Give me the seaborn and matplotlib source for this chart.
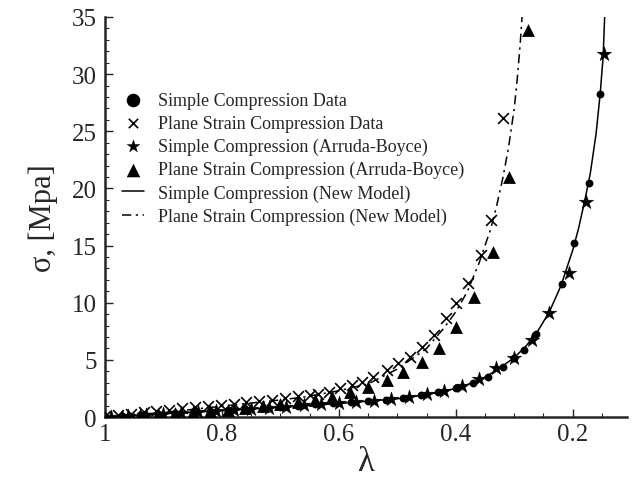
import numpy as np
import pandas as pd
import seaborn as sns
import matplotlib.pyplot as plt
from matplotlib.ticker import MultipleLocator

# Simple compression, new model (solid line)
sc_model_lam = [1.0, 0.9, 0.8, 0.7, 0.6, 0.5, 0.45, 0.4, 0.36, 0.33, 0.3, 0.28, 0.26,
                0.24, 0.22, 0.2, 0.19, 0.18, 0.17, 0.16, 0.153, 0.148, 0.145]
sc_model_sig = [0.0, 0.28, 0.56, 0.85, 1.18, 1.6, 1.95, 2.5, 3.2, 4.1, 5.2, 6.2, 7.5,
                9.2, 11.5, 14.6, 16.5, 18.8, 21.3, 24.8, 28.3, 31.5, 35.5]

# Plane strain compression, new model (dash-dot line)
ps_model_lam = [1.0, 0.9, 0.8, 0.7, 0.66, 0.6, 0.55, 0.5, 0.45, 0.42, 0.4, 0.38, 0.36,
                0.34, 0.33, 0.32, 0.31, 0.3, 0.295, 0.29, 0.286]
ps_model_sig = [0.0, 0.4, 0.95, 1.5, 1.75, 2.3, 2.9, 4.2, 6.0, 7.8, 9.2, 11.0, 13.5,
                16.5, 18.5, 20.8, 23.5, 27.0, 29.5, 32.5, 35.5]

# Simple compression data (circles)
sc_data_lam = [1.0, 0.97, 0.94, 0.91, 0.88, 0.85, 0.82, 0.79, 0.76, 0.73, 0.70, 0.67,
               0.64, 0.61, 0.58, 0.55, 0.52, 0.49, 0.46, 0.43, 0.40, 0.37, 0.345, 0.32,
               0.30, 0.283, 0.262, 0.219, 0.197, 0.172, 0.153]
sc_data_sig = [0.0, 0.08, 0.17, 0.26, 0.36, 0.45, 0.54, 0.63, 0.72, 0.82, 0.9, 1.0,
               1.1, 1.2, 1.32, 1.42, 1.52, 1.68, 1.9, 2.2, 2.5, 3.0, 3.5, 4.4,
               5.2, 5.9, 7.3, 11.6, 15.2, 20.5, 28.3]

# Plane strain compression data (crosses)
ps_data_lam = [1.0, 0.978, 0.956, 0.934, 0.912, 0.89, 0.868, 0.846, 0.824, 0.802, 0.78,
               0.758, 0.736, 0.714, 0.692, 0.67, 0.65, 0.636, 0.616, 0.598, 0.578, 0.56,
               0.541, 0.517, 0.498, 0.478, 0.457, 0.438, 0.417, 0.4, 0.379, 0.357, 0.34,
               0.319]
ps_data_sig = [0.05, 0.2, 0.3, 0.45, 0.55, 0.65, 0.75, 0.85, 0.95, 1.05, 1.15,
               1.3, 1.4, 1.5, 1.65, 1.8, 1.9, 2.0, 2.2, 2.5, 2.8, 3.1,
               3.5, 4.1, 4.7, 5.25, 6.1, 7.2, 8.7, 10.0, 11.7, 14.2, 17.2,
               26.2]

# Simple compression, Arruda-Boyce (stars)
sc_ab_lam = [0.99, 0.96, 0.93, 0.9, 0.87, 0.84, 0.81, 0.78, 0.75, 0.72, 0.69, 0.66,
             0.63, 0.6, 0.57, 0.54, 0.51, 0.48, 0.45, 0.42, 0.39, 0.36, 0.331, 0.3,
             0.269, 0.24, 0.207, 0.178, 0.147]
sc_ab_sig = [0.02, 0.1, 0.2, 0.28, 0.37, 0.46, 0.55, 0.64, 0.73, 0.82, 0.92, 1.02,
             1.12, 1.22, 1.33, 1.43, 1.55, 1.75, 2.0, 2.3, 2.7, 3.3, 4.3, 5.2,
             6.7, 9.1, 12.6, 18.8, 31.8]

# Plane strain compression, Arruda-Boyce (triangles)
ps_ab_lam = [1.0, 0.97, 0.94, 0.91, 0.88, 0.85, 0.82, 0.79, 0.76, 0.73, 0.70, 0.67,
             0.641, 0.612, 0.581, 0.55, 0.517, 0.49, 0.457, 0.429, 0.4, 0.369, 0.336,
             0.309, 0.276]
ps_ab_sig = [0.0, 0.08, 0.15, 0.25, 0.35, 0.45, 0.55, 0.65, 0.8, 0.95, 1.1, 1.3,
             1.5, 1.75, 2.2, 2.6, 3.2, 3.9, 4.8, 6.0, 7.9, 10.5, 14.4,
             21.0, 33.9]

sns.set_style('ticks')
plt.rcParams['font.family'] = ['Liberation Serif', 'DejaVu Serif']

fig, ax = plt.subplots(figsize=(6.36, 4.85), dpi=100)
fig.subplots_adjust(left=0.165, right=0.986, bottom=0.138, top=0.963)

sns.scatterplot(x=sc_data_lam, y=sc_data_sig, ax=ax, marker='o', color='k', s=32,
                edgecolor='k', linewidth=0, label='Simple Compression Data', zorder=3)
sns.scatterplot(x=ps_data_lam, y=ps_data_sig, ax=ax, marker='x', color='k', s=60,
                linewidth=1.2, label='Plane Strain Compression Data', zorder=3)
sns.scatterplot(x=sc_ab_lam, y=sc_ab_sig, ax=ax, marker='*', color='k', s=120,
                edgecolor='k', linewidth=0.3, label='Simple Compression (Arruda-Boyce)', zorder=3)
sns.scatterplot(x=ps_ab_lam, y=ps_ab_sig, ax=ax, marker='^', color='k', s=85,
                edgecolor='k', linewidth=0, label='Plane Strain Compression (Arruda-Boyce)', zorder=3)
sns.lineplot(x=sc_model_lam, y=sc_model_sig, ax=ax, color='k', lw=1.1, sort=False,
             label='Simple Compression (New Model)')
sns.lineplot(x=ps_model_lam, y=ps_model_sig, ax=ax, color='k', lw=1.1, sort=False,
             linestyle=(0, (6, 3, 1.5, 3)), label='Plane Strain Compression (New Model)')

ax.set_xlim(1.0, 0.107)
ax.set_ylim(0, 35)
ax.xaxis.set_minor_locator(MultipleLocator(0.05))
ax.yaxis.set_major_locator(MultipleLocator(5))
ax.yaxis.set_minor_locator(MultipleLocator(1))
ax.set_xticks([1.0, 0.8, 0.6, 0.4, 0.2])
ax.set_xticklabels(['1', '0.8', '0.6', '0.4', '0.2'])
ax.tick_params(which='major', direction='in', length=6, width=1, labelsize=18, pad=4)
ax.tick_params(which='minor', direction='in', length=3, width=0.8)
ax.tick_params(axis='y', pad=6)
sns.despine(ax=ax)
for sp in ['left', 'bottom']:
    ax.spines[sp].set_linewidth(1.8)

ax.set_xlabel('λ', fontsize=25, labelpad=0)
ax.set_ylabel('σ, [Mpa]', fontsize=22, labelpad=10)

leg = ax.legend(loc='upper left', bbox_to_anchor=(0.015, 0.835), frameon=False,
                fontsize=13, handlelength=1.25, handletextpad=0.75, labelspacing=0.33,
                borderpad=0)
for h, sz in zip(leg.legend_handles[:4], [95, 45, 90, 95]):
    h.set_sizes([sz])

plt.savefig('out.png', dpi=100)
